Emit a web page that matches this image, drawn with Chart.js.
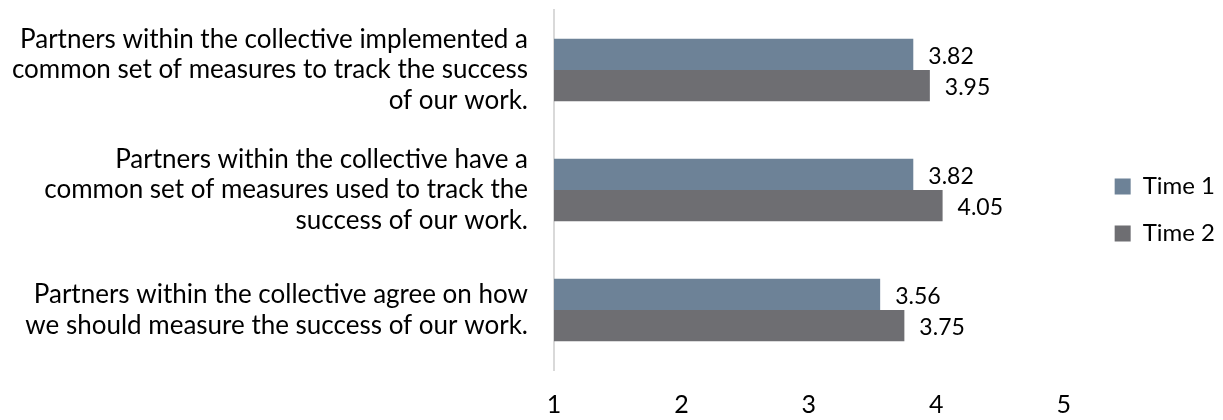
<!DOCTYPE html>
<html>
<head>
<meta charset="utf-8">
<script src="https://cdn.jsdelivr.net/npm/chart.js@4"></script>
<style>
  body { margin: 0; background: #fff; }
  #wrap { width: 1223px; height: 420px; }
</style>
</head>
<body>
<div id="wrap"><canvas id="measures"></canvas></div>
<script>
const statements = [
    ['Partners within the collective implemented a', 'common set of measures to track the success', 'of our work.'],
    ['Partners within the collective have a', 'common set of measures used to track the', 'success of our work.'],
    ['Partners within the collective agree on how', 'we should measure the success of our work.']
];
const time1 = [3.82, 3.82, 3.56];
const time2 = [3.95, 4.05, 3.75];
const seriesNames = ['Time 1', 'Time 2'];
const scaleTicks = [1, 2, 3, 4, 5];

const FONT = 'Lato';

// writes the value just past the end of each bar
const barValueLabels = {
    id: 'barValueLabels',
    afterDatasetsDraw(chart) {
        const ctx = chart.ctx;
        ctx.save();
        ctx.font = '23px ' + FONT;
        ctx.fillStyle = '#000';
        ctx.textBaseline = 'middle';
        ctx.textAlign = 'left';
        chart.data.datasets.forEach((ds, i) => {
            chart.getDatasetMeta(i).data.forEach((bar, j) => {
                ctx.fillText(ds.data[j].toFixed(2), bar.x + 15, bar.y + 2);
            });
        });
        ctx.restore();
    }
};

const config = {
    type: 'bar',
    data: {
        labels: statements,
        datasets: [
            {
                label: seriesNames[0],
                data: time1,
                backgroundColor: '#6D8297',
                categoryPercentage: 0.52,
                barPercentage: 1.0
            },
            {
                label: seriesNames[1],
                data: time2,
                backgroundColor: '#6E6E72',
                categoryPercentage: 0.52,
                barPercentage: 1.0
            }
        ]
    },
    options: {
        indexAxis: 'y',
        responsive: true,
        maintainAspectRatio: false,
        animation: false,
        layout: {
            padding: { top: 0, right: -2, bottom: 0, left: 0 }
        },
        scales: {
            x: {
                min: scaleTicks[0],
                // a little headroom past 5 keeps the legend clear of the plot
                max: 5.22,
                afterBuildTicks(scale) {
                    scale.ticks = scaleTicks.map(v => ({ value: v }));
                },
                afterFit(scale) {
                    scale.height = 50;
                },
                grid: { display: false, drawTicks: false },
                border: { display: false },
                ticks: {
                    padding: 20,
                    color: '#000',
                    font: { family: FONT, size: 25 }
                }
            },
            y: {
                afterFit(scale) {
                    // fixed axis width, small gap above the plot, none below
                    scale.width = 554;
                    scale.paddingTop = 10;
                    scale.paddingBottom = 0;
                },
                grid: { display: false, drawTicks: false },
                border: { display: true, color: '#D9D9D9', width: 2 },
                ticks: {
                    padding: 26,
                    color: '#000',
                    font: { family: FONT, size: 26, lineHeight: 1.17 }
                }
            }
        },
        plugins: {
            legend: {
                position: 'right',
                align: 'center',
                labels: {
                    boxWidth: 16,
                    boxHeight: 16,
                    padding: 23,
                    color: '#000',
                    font: { family: FONT, size: 24 }
                }
            },
            tooltip: { enabled: false }
        }
    },
    plugins: [barValueLabels]
};

const ctx = document.getElementById('measures').getContext('2d');
const measuresChart = new Chart(ctx, config);
</script>
</body>
</html>
